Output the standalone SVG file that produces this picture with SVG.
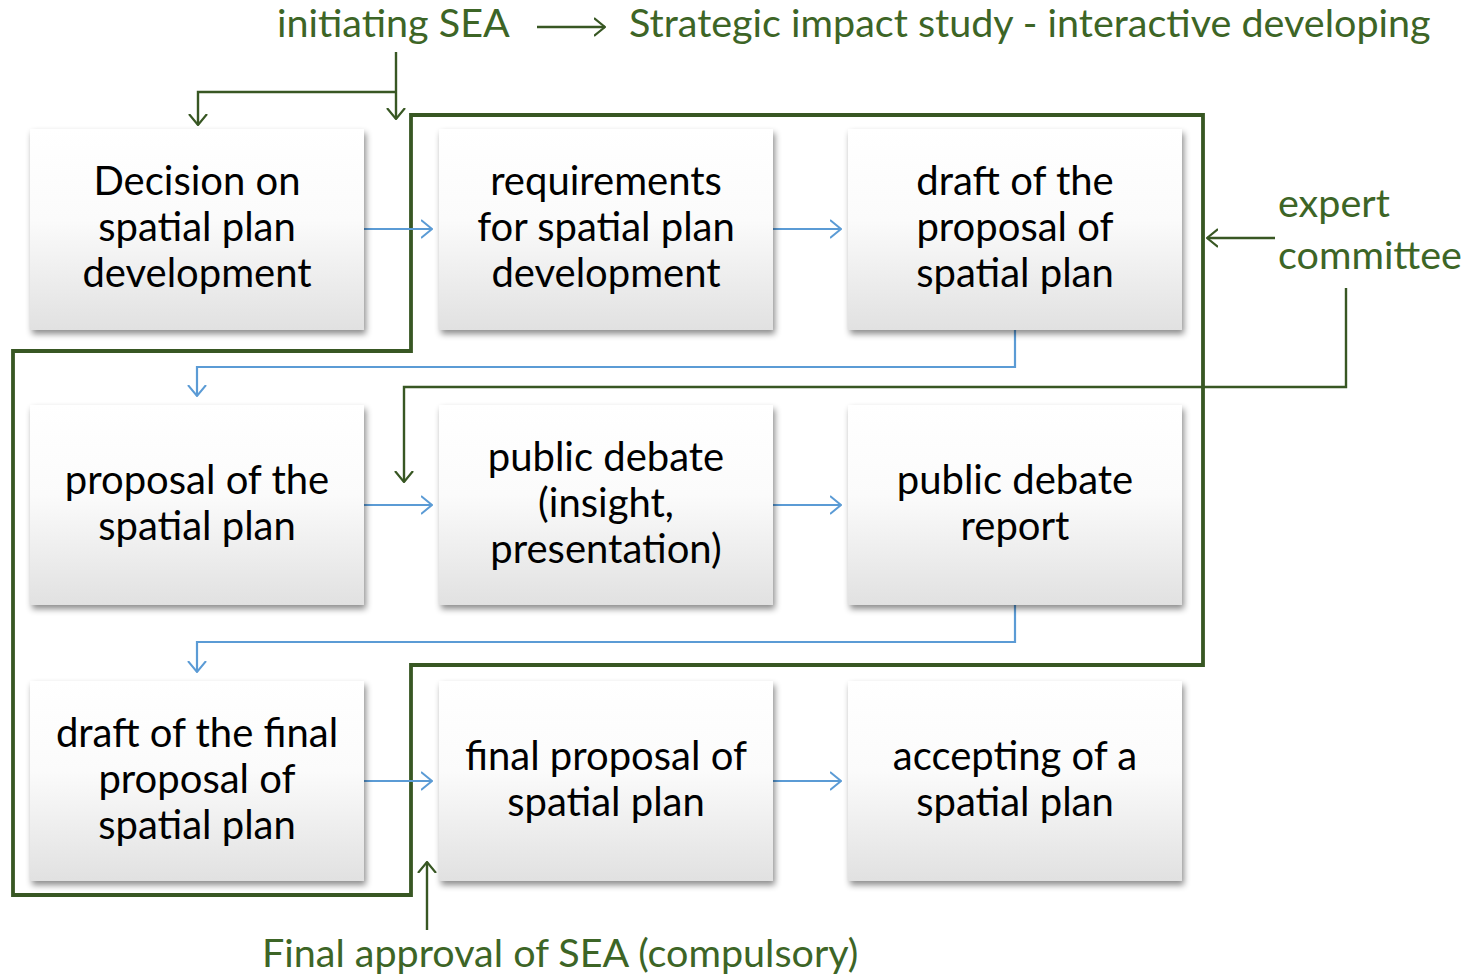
<svg xmlns="http://www.w3.org/2000/svg" width="1479" height="977" viewBox="0 0 1479 977">
<defs>
<linearGradient id="boxg" x1="0" y1="0" x2="0" y2="1">
<stop offset="0" stop-color="#ffffff"/>
<stop offset="0.45" stop-color="#fbfbfb"/>
<stop offset="1" stop-color="#e1e1e1"/>
</linearGradient>
<filter id="sh" x="-10%" y="-10%" width="125%" height="130%">
<feDropShadow dx="2" dy="4" stdDeviation="3" flood-color="#000" flood-opacity="0.45"/>
</filter>
<marker id="ab" viewBox="0 0 12 20" refX="11" refY="10" markerWidth="12" markerHeight="20" markerUnits="userSpaceOnUse" orient="auto">
<path d="M0,1 L11,10 L0,19" fill="none" stroke="#5b9bd5" stroke-width="2"/>
</marker>
<marker id="ag" viewBox="0 0 12 20" refX="11" refY="10" markerWidth="12" markerHeight="20" markerUnits="userSpaceOnUse" orient="auto">
<path d="M0,1 L11,10 L0,19" fill="none" stroke="#385723" stroke-width="2.2"/>
</marker>
</defs>
<style>
.box{fill:url(#boxg);filter:url(#sh)}
.t{font-family:Lato,"Open Sans",sans-serif;font-size:40px;fill:#000;text-anchor:middle}
.g{font-family:Lato,"Open Sans",sans-serif;font-size:39.5px;fill:#3d6526}
.bl{fill:none;stroke:#5b9bd5;stroke-width:2.2}
.gl{fill:none;stroke:#385723;stroke-width:2.4}
.gb{fill:none;stroke:#385723;stroke-width:3.8}
</style>
<g id="connectors">
<path class="gb" d="M411,115 H1203 V665 H411 V895 H13 V351 H411 Z"/>
<path class="bl" marker-end="url(#ab)" d="M364,229 H432"/>
<path class="bl" marker-end="url(#ab)" d="M773,229 H841"/>
<path class="bl" marker-end="url(#ab)" d="M1015,330 V367 H197 V396"/>
<path class="bl" marker-end="url(#ab)" d="M364,505 H432"/>
<path class="bl" marker-end="url(#ab)" d="M773,505 H841"/>
<path class="bl" marker-end="url(#ab)" d="M1015,605 V642 H197 V672"/>
<path class="bl" marker-end="url(#ab)" d="M364,781 H432"/>
<path class="bl" marker-end="url(#ab)" d="M773,781 H841"/>
<path class="gl" marker-end="url(#ag)" d="M537,27 H605"/>
<path class="gl" marker-end="url(#ag)" d="M396,52 V119"/>
<path class="gl" marker-end="url(#ag)" d="M396,92 H198 V125"/>
<path class="gl" marker-end="url(#ag)" d="M1275,238 H1207"/>
<path class="gl" marker-end="url(#ag)" d="M1346,288 V387 H404 V482"/>
<path class="gl" marker-end="url(#ag)" d="M427,930 V862"/>
</g>
<g id="labels">
<text class="g" x="277" y="37">initiating SEA</text>
<text class="g" x="629" y="37">Strategic impact study - interactive developing</text>
<text class="g" x="1278" y="217">expert</text>
<text class="g" x="1278" y="269">committee</text>
<text class="g" x="262" y="967">Final approval of SEA (compulsory)</text>
</g>
<g id="n1"><rect class="box" x="30" y="129" width="334" height="201"/>
<text class="t" x="197" y="195">Decision on</text><text class="t" x="197" y="241">spatial plan</text><text class="t" x="197" y="287">development</text></g>
<g id="n2"><rect class="box" x="439" y="129" width="334" height="201"/>
<text class="t" x="606" y="195">requirements</text><text class="t" x="606" y="241">for spatial plan</text><text class="t" x="606" y="287">development</text></g>
<g id="n3"><rect class="box" x="848" y="129" width="334" height="201"/>
<text class="t" x="1015" y="195">draft of the</text><text class="t" x="1015" y="241">proposal of</text><text class="t" x="1015" y="287">spatial plan</text></g>
<g id="n4"><rect class="box" x="30" y="405" width="334" height="200"/>
<text class="t" x="197" y="494">proposal of the</text><text class="t" x="197" y="540">spatial plan</text></g>
<g id="n5"><rect class="box" x="439" y="405" width="334" height="200"/>
<text class="t" x="606" y="471">public debate</text><text class="t" x="606" y="517">(insight,</text><text class="t" x="606" y="563">presentation)</text></g>
<g id="n6"><rect class="box" x="848" y="405" width="334" height="200"/>
<text class="t" x="1015" y="494">public debate</text><text class="t" x="1015" y="540">report</text></g>
<g id="n7"><rect class="box" x="30" y="681" width="334" height="200"/>
<text class="t" x="197" y="747">draft of the final</text><text class="t" x="197" y="793">proposal of</text><text class="t" x="197" y="839">spatial plan</text></g>
<g id="n8"><rect class="box" x="439" y="681" width="334" height="200"/>
<text class="t" x="606" y="770">final proposal of</text><text class="t" x="606" y="816">spatial plan</text></g>
<g id="n9"><rect class="box" x="848" y="681" width="334" height="200"/>
<text class="t" x="1015" y="770">accepting of a</text><text class="t" x="1015" y="816">spatial plan</text></g>
</svg>
